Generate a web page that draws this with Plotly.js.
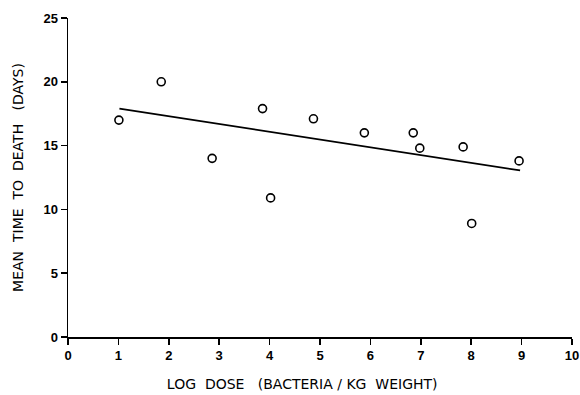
<!DOCTYPE html>
<html><head><meta charset="utf-8">
<script src="https://cdn.plot.ly/plotly-3.0.1.min.js"></script>
<style>html,body{margin:0;padding:0;background:#fff}#c{width:580px;height:395px}</style>
</head><body><div id="c"></div>
<script>
const logDose = [1.01, 1.85, 2.86, 3.86, 4.02, 4.87, 5.88, 6.85, 6.98, 7.84, 8.01, 8.95];
const meanDays = [17.0, 20.0, 14.0, 17.9, 10.9, 17.1, 16.0, 16.0, 14.8, 14.9, 8.9, 13.8];
const fitX = [1.02, 8.97];
const fitY = [17.9, 13.05];
const xTicks = [0,1,2,3,4,5,6,7,8,9,10];
const yTicks = [0,5,10,15,20,25];

const titleFont = {size: 14, family: 'DejaVu Sans, Arial, sans-serif', color: '#000'};
const tickFont = {size: 13, family: 'Liberation Sans, Arial, sans-serif', weight: 'bold', color: '#000'};
const sp = n => '&nbsp;'.repeat(n);

Plotly.newPlot('c', [
  {x: fitX, y: fitY, mode: 'lines', line: {color: '#000', width: 1.8}, hoverinfo: 'skip'},
  {x: logDose, y: meanDays, mode: 'markers',
   marker: {symbol: 'circle-open', size: 8, color: '#000', line: {width: 1.6, color: '#000'}}}
], {
  width: 580, height: 395, showlegend: false,
  paper_bgcolor: '#fff', plot_bgcolor: '#fff',
  margin: {l: 68, r: 8, t: 18, b: 58},
  font: {family: 'Liberation Sans, Arial, sans-serif', color: '#000'},
  xaxis: {range: [0, 10], tickvals: xTicks, ticktext: xTicks.map(String),
    showgrid: false, zeroline: false, showline: true, linecolor: '#000', linewidth: 1.5,
    ticks: 'outside', ticklen: 6, tickwidth: 1.5, tickcolor: '#000',
    tickfont: tickFont,
    title: {text: 'LOG' + sp(2) + 'DOSE' + sp(3) + '(BACTERIA' + sp(1) + '/' + sp(1) + 'KG' + sp(2) + 'WEIGHT)' + sp(8), font: titleFont, standoff: 17}},
  yaxis: {range: [0, 25], tickvals: yTicks, ticktext: yTicks.map(String),
    showgrid: false, zeroline: false, showline: true, linecolor: '#000', linewidth: 1.5,
    ticks: 'outside', ticklen: 6, tickwidth: 1.5, tickcolor: '#000',
    tickfont: tickFont,
    title: {text: 'MEAN' + sp(2) + 'TIME' + sp(2) + 'TO' + sp(2) + 'DEATH' + sp(3) + '(DAYS)', font: titleFont, standoff: 16}}
}, {displayModeBar: false, staticPlot: true});
</script></body></html>
